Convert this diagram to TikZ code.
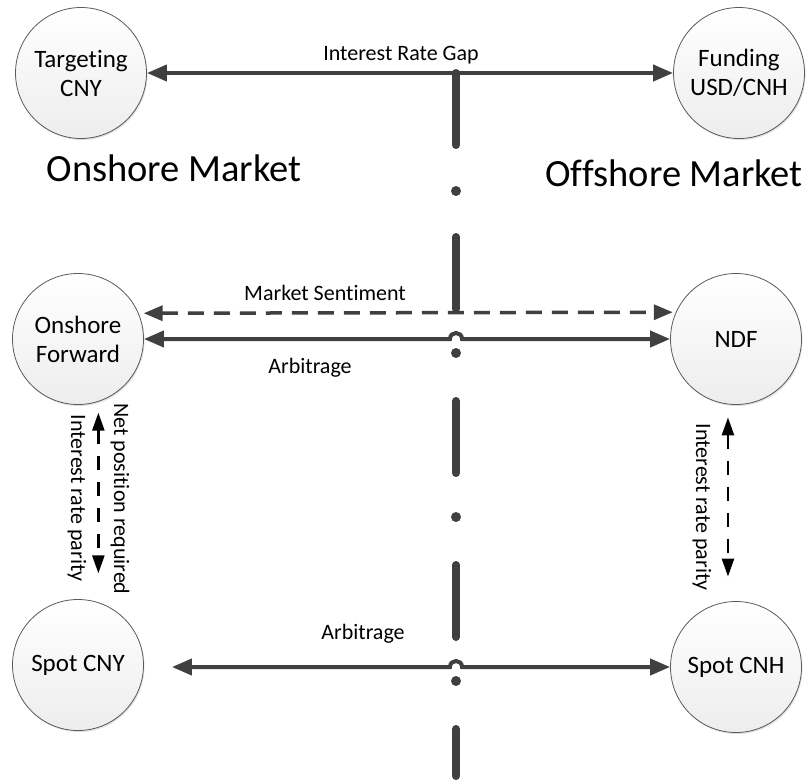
\documentclass[tikz,border=0pt]{standalone}
\usepackage{fontspec}
\setmainfont{Carlito}[Ligatures={NoCommon}]
\usetikzlibrary{arrows.meta,shadows}
\definecolor{lineg}{HTML}{404040}
\definecolor{circb}{HTML}{5A5A5A}
\tikzset{
  mkt/.style={circle, minimum size=131pt, inner sep=0pt, draw=circb, line width=0.8pt,
    top color=white, bottom color=gray!14, align=center,
    font=\fontsize{25}{29}\selectfont,
    drop shadow={opacity=0.25, shadow xshift=1pt, shadow yshift=-1.5pt}},
  lbl/.style={font=\fontsize{22}{26}\selectfont, inner sep=0pt},
  big/.style={font=\fontsize{38.5}{44}\selectfont, inner sep=0pt},
  harrow/.style={draw=lineg, line width=4pt, {Triangle[length=20pt,width=16pt]}-{Triangle[length=20pt,width=16pt]}},
  hdash/.style={draw=lineg, line width=3.5pt, dash pattern=on 16pt off 10pt, {Triangle[length=19pt,width=15pt]}-{Triangle[length=19pt,width=15pt]}},
  vdash/.style={draw=black, line width=2.5pt, dash pattern=on 14pt off 12pt, {Triangle[length=18pt,width=12pt]}-{Triangle[length=18pt,width=12pt]}},
  vline/.style={draw=lineg, line width=8pt, line cap=round},
}
\begin{document}
\begin{tikzpicture}[x=1pt,y=-1pt]
\useasboundingbox (0,0) rectangle (809,782);
% divider
\draw[vline] (456,73) -- (456,145);
\draw[vline] (456,237) -- (456,309);
\draw[vline] (456,401) -- (456,473);
\draw[vline] (456,565) -- (456,637);
\draw[vline] (456,729) -- (456,776);
\foreach \yy in {191,353,517,681} \fill[lineg] (456,\yy) circle (5);
% nodes
\node[mkt] (tcny) at (81,73) {Targeting\\CNY};
\node[mkt] (fund) at (739,73) {Funding\\USD/CNH};
\node[mkt] (ofwd) at (78,339) {Onshore\\Forward};
\node[mkt] (ndf) at (736,339) {NDF};
\node[mkt] (scny) at (78,665) {Spot CNY};
\node[mkt] (scnh) at (736,667) {Spot CNH};
% market titles
\node[big, anchor=base] (on) at (174,181) {Onshore Market};
\node[big, anchor=base east] (off) at (803,186) {Offshore Market};
% connectors
\draw[harrow] (tcny) -- (fund);
\node[lbl, anchor=base] (lgap) at (401,60) {Interest Rate Gap};
\draw[hdash, shorten <=5pt, shorten >=3pt] (ofwd.23.6) -- (ndf.156);
\node[lbl, anchor=base] (lsent) at (325,300) {Market Sentiment};
\draw[harrow] (ofwd.east) -- (450,339) .. controls (450,331) and (462,331) .. (462,339) -- (ndf.west);
\node[lbl, anchor=base] (larb1) at (310,373) {Arbitrage};
\draw[harrow, shorten <=28pt] (scny.east |- scnh.west) -- (450,667) .. controls (450,659) and (462,659) .. (462,667) -- (scnh.west);
\node[lbl, anchor=base] (larb2) at (363,639) {Arbitrage};
\draw[vdash, shorten <=11pt, shorten >=29pt] (ofwd.-72) -- (scny.72);
\node[lbl, rotate=-90] (lnet) at (120,499) {Net position required};
\node[lbl, rotate=-90] (lirp1) at (77,498) {Interest rate parity};
\draw[vdash, shorten <=13pt, shorten >=25pt] (ndf.-97) -- (scnh.97);
\node[lbl, rotate=-90] (lirp2) at (702,507) {Interest rate parity};
\end{tikzpicture}
\end{document}
